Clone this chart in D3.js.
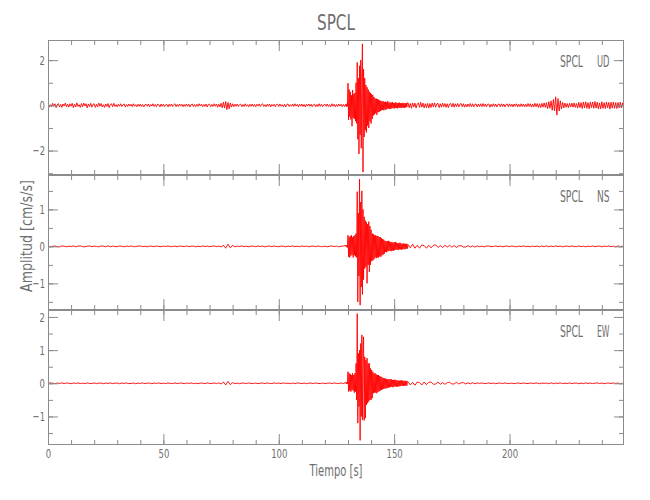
<!DOCTYPE html>
<html><head><meta charset="utf-8">
<script src="https://cdn.jsdelivr.net/npm/d3@7"></script>
<style>
body{margin:0;background:#fff;}
text{font-family:"DejaVu Sans Condensed","DejaVu Sans",sans-serif;fill:#6e6e6e;}
</style></head>
<body><svg id="c" width="650" height="500"></svg>
<script>
// ---------- data ----------
const title = "SPCL";
const station = "SPCL";
const components = ["UD", "NS", "EW"];
const xLabel = "Tiempo [s]";
const yLabel = "Amplitud [cm/s/s]";
const timeDomain = [0, 249.6];
const xMajorTicks = [0, 50, 100, 150, 200];
const xMinorTicks = d3.range(0, 250, 10);
const eventStart = 129, eventStep = 0.25, postStart = 156;

// UD (vertical) component: quiet parts sampled every 0.5 s
const udStep = 0.5;
const udDomain = [-3.08, 2.89];
const udMajor = [-2, 0, 2];
const udMinor = [-3, -2, -1, 0, 1, 2];
const udPre = [
 .05,-.08,.03,-.06,.09,-.04,.07,-.1,.02,.08,-.07,.04,-.09,.06,-.03,.1,-.06,.05,-.08,.07,
 -.04,.09,-.1,.05,-.07,.11,-.05,.03,-.09,.08,-.06,.1,-.03,.07,-.11,.06,-.05,.09,-.08,.04,
 .07,-.09,.05,-.06,.1,-.04,.08,-.07,.03,-.09,.06,-.05,.08,-.1,.04,.07,-.06,.09,-.05,.03,
 -.06,.05,-.04,.07,-.05,.03,.06,-.07,.04,-.05,.06,-.03,.05,-.06,.07,-.04,.03,-.06,.05,-.04,
 .06,-.05,.04,-.07,.03,.05,-.04,.06,-.06,.04,-.03,.07,-.05,.04,-.06,.05,.03,-.07,.06,-.04,
 .05,-.06,.03,.04,-.07,.05,-.04,.06,-.05,.03,.07,-.06,.04,-.05,.06,-.03,.05,-.06,.04,-.05,
 .06,-.04,.05,-.07,.03,.06,-.05,.04,-.06,.05,-.04,.07,-.03,.05,-.06,.04,-.05,.06,-.07,.04,
 .05,-.06,.04,-.05,.07,-.04,.06,-.08,.05,-.07,.09,-.11,.14,-.12,.17,-.19,.13,-.15,.1,-.08,
 .07,-.06,.05,-.04,.06,-.05,.03,.05,-.06,.04,-.05,.07,-.04,.03,-.06,.05,-.04,.06,-.05,.04,
 -.06,.05,-.03,.06,-.05,.04,.07,-.05,.03,-.06,.05,-.04,.06,-.07,.04,-.03,.05,-.06,.04,.05,
 -.05,.06,-.04,.03,-.06,.05,-.07,.04,.06,-.05,.03,-.04,.06,-.05,.07,-.03,.04,-.06,.05,-.04,
 .06,-.05,.04,-.07,.05,-.03,.06,-.04,.05,-.06,.03,.05,-.06,.04,-.05,.07,-.04,.05,-.06,.03,
 .05,-.04,.06,-.05,.03,-.06,.07,-.04,.05,-.06,.04,-.05,.06,-.03,.05,-.06,.04,-.05];
const udEvent = [
 .05,-.06,.07,-.05,  .98,-.65,.7,-.5,  .6,-.62,.45,-.92,  .68,-.55,.5,-.6,
 .55,-.7,1.0,-.8,  1.9,-1.5,1.2,-2.15,  1.75,-1.3,2.0,-1.9,  1.3,2.72,-2.95,1.6,
 -1.4,1.2,-1.1,.9,  -1.2,.8,-.9,.7,  -1.0,.6,-.7,.55,  -.8,.5,-.6,.45,
 -.45,.37,-.4,.3,  -.35,.3,-.42,.28,  -.3,.25,-.3,.22,  -.25,.2,-.22,.18,
 -.2,.18,-.22,.15,  -.18,.16,-.2,.14,  -.15,.18,-.14,.12,  -.16,.13,-.15,.12,
 -.13,.15,-.12,.1,  -.14,.12,-.11,.13,  -.12,.1,-.13,.11,  -.1,.12,-.11,.09,
 -.12,.1,-.09,.11,  -.1,.09,-.11,.1,  -.09,.1,-.08,.11];
const udPost = [
 .12,-.1,.08,-.13,.11,-.07,.1,-.12,.06,.11,-.09,.13,-.08,.1,-.11,.07,-.1,.09,-.12,.08,
 -.09,.1,-.07,.11,-.08,.06,.09,-.1,.07,-.08,.1,-.06,.08,-.09,.07,-.1,.06,.08,-.07,.09,
 -.08,.07,-.06,.08,-.07,.05,.08,-.06,.07,-.08,.05,-.07,.06,-.05,.08,-.06,.07,-.07,.05,.06,
 -.07,.06,-.05,.07,-.06,.08,-.05,.06,-.07,.05,.06,-.08,.05,-.06,.07,-.05,.06,-.07,.04,.06,
 -.06,.07,-.05,.06,-.07,.04,.06,-.06,.07,-.05,.05,-.07,.06,-.04,.07,-.06,.05,-.06,.07,-.05,
 .06,-.07,.05,-.06,.08,-.05,.07,-.08,.06,-.07,.09,-.06,.08,-.09,.07,-.1,.09,-.08,.11,-.09,
 .12,-.14,.16,-.13,.2,-.22,.26,-.24,.38,-.43,.3,-.25,.2,-.16,.13,-.11,.1,-.09,.08,-.1,
 .09,-.07,.1,-.08,.11,-.09,.08,-.12,.13,-.1,.12,-.14,.15,-.11,.16,-.13,.12,-.15,.14,-.1,
 .15,-.13,.17,-.12,.14,-.16,.11,-.15,.16,-.13,.12,-.14,.15,-.11,.13,-.16,.14,-.12,.15,-.13,
 .12,-.14,.13,-.11,.14,-.12,.11,-.13];

// NS component: quiet parts sampled every 1 s
const nsStep = 1;
const nsDomain = [-1.72, 1.93];
const nsMajor = [-1, 0, 1];
const nsMinor = [-1.5, -1, -0.5, 0, 0.5, 1, 1.5];
const nsPre = [
 .008,-.012,.004,.012,-.008,-.015,.012,.004,-.012,.008,
 -.004,.012,-.012,.008,.015,-.008,-.012,.004,.012,-.008,
 .008,-.004,-.012,.012,.004,-.008,.015,-.012,.008,-.004,
 -.008,.012,.004,-.012,.008,-.004,.012,-.008,-.004,.008,
 .012,-.008,.004,-.012,.008,.004,-.008,.012,-.004,-.008,
 .008,-.004,.012,-.008,-.004,.008,-.012,.008,.004,-.008,
 .012,-.008,.004,.008,-.012,.004,-.008,.012,-.004,.008,
 -.008,.004,.012,-.008,.008,-.015,.03,-.05,.06,-.04,
 .03,-.012,.008,-.004,.012,-.008,.004,-.012,.008,.004,
 -.008,.012,-.004,.008,-.012,.004,.008,-.008,.012,-.004,
 -.008,.008,.004,-.012,.008,-.004,.012,-.008,.004,-.008,
 .012,-.004,.008,-.012,.004,.008,-.008,.012,-.004,-.008,
 .008,-.012,.004,.012,-.008,.008,-.012,.004,.008];
const nsEvent = [
 .03,-.02,.03,-.03,  .3,-.28,.25,-.3,  .28,-.25,.3,-.22,  .25,-.3,.28,-.24,
 .3,-.27,.35,-.3,  1.48,-1.5,.9,-.8,  1.82,-1.59,1.2,-1.1,  1.5,-1.3,1.0,-.9,
 .8,-.6,.7,-.55,  .65,-1.0,.6,-.5,  .67,-.69,.55,-.5,  .45,-.4,.35,-.38,
 .33,-.35,.3,-.3,  .3,-.32,.28,-.3,  .28,-.3,.25,-.27,  .25,-.28,.22,-.24,
 .2,-.22,.18,-.2,  .15,-.15,.14,-.16,  .14,-.13,.15,-.12,  .13,-.12,.11,-.13,
 .12,-.11,.1,-.12,  .11,-.1,.12,-.09,  .1,-.09,.08,-.1,  .09,-.08,.1,-.08,
 .08,-.09,.07,-.08,  .08,-.07,.07,-.08,  .07,-.06,.07,-.06];
const nsPost = [
 .05,-.04,.06,-.05,.03,-.05,.04,.02,-.05,.03,
 -.04,.03,.04,-.03,.02,-.03,.03,-.02,.03,-.02,
 .02,-.03,.015,.02,-.02,-.015,.02,-.02,.015,-.02,
 .012,-.008,.004,-.012,.008,.012,-.008,-.004,.012,-.008,
 .008,-.012,.004,.008,-.008,.012,-.004,-.012,.008,-.004,
 .012,-.008,.004,-.012,.008,-.004,.008,-.012,.012,-.008,
 .015,-.012,.008,-.008,.012,-.004,.008,-.012,.004,.008,
 -.008,.012,-.004,-.008,.012,-.008,.004,-.012,.008,-.004,
 .012,-.008,.004,.008,-.012,.008,-.004,.012,-.008,.004,
 -.008,.012,-.004,.008];

// EW component: quiet parts sampled every 1 s
const ewStep = 1;
const ewDomain = [-1.86, 2.21];
const ewMajor = [-1, 0, 1, 2];
const ewMinor = [-1.5, -1, -0.5, 0, 0.5, 1, 1.5, 2];
const ewPre = [
 -.008,.012,.004,-.012,.008,-.004,.012,-.008,.008,.004,
 -.012,.008,-.004,.012,-.008,.004,-.008,.012,-.004,-.008,
 .012,-.008,.004,.008,-.012,.008,-.004,.012,-.008,.004,
 .008,-.012,.008,-.004,.012,-.008,-.004,.008,-.012,.008,
 -.004,.012,-.008,.004,.008,-.012,.008,-.004,.012,-.008,
 .004,-.008,.012,-.004,-.008,.012,-.008,.004,.008,-.012,
 .008,-.004,.012,-.008,.004,-.012,.008,.004,-.008,.012,
 -.004,-.008,.012,-.008,.012,-.02,.04,-.05,.06,-.04,
 .02,-.008,.004,-.012,.008,.004,-.008,.012,-.004,-.008,
 .008,-.012,.004,.008,-.008,.012,-.004,-.008,.012,-.004,
 .008,-.008,.012,-.004,.004,-.012,.008,-.008,.012,.004,
 -.008,.008,-.012,.004,.008,-.008,.012,-.004,-.008,.008,
 -.012,.004,.008,-.008,.012,-.004,-.008,.012,-.008];
const ewEvent = [
 .03,-.02,.03,-.02,  .35,-.25,.3,-.22,  .28,-.25,.25,-.2,  .3,-.22,.25,-.28,
 .3,-.25,.6,-.5,  2.1,-1.2,.9,-.7,  1.0,-1.72,1.2,-1.0,  1.46,-1.1,.9,1.4,
 -1.12,.8,-1.05,.7,  -.65,.76,-.6,.6,  -.55,.6,-.5,.45,  -.5,.4,-.45,.35,
 -.3,.3,-.28,.3,  -.28,.27,-.3,.25,  -.26,.25,-.24,.22,  -.22,.2,-.2,.18,
 -.18,.16,-.17,.15,  -.15,.14,-.16,.13,  -.14,.12,-.13,.12,  -.12,.13,-.11,.12,
 -.11,.1,-.12,.1,  -.1,.11,-.09,.1,  -.1,.09,-.1,.08,  -.09,.08,-.09,.08,
 -.08,.09,-.07,.08,  -.08,.07,-.07,.08,  -.07,.06,-.07,.06];
const ewPost = [
 .05,-.05,.03,-.06,.04,.02,-.05,.04,-.04,.03,
 .04,-.03,-.02,.04,-.03,.02,-.03,.02,.03,-.02,
 -.02,.03,-.02,.015,.02,-.02,.015,-.015,.02,-.015,
 .012,-.004,.012,-.008,-.004,.012,-.008,.008,-.012,.004,
 .008,-.008,.012,-.004,-.008,.008,-.012,.004,.008,-.008,
 .012,-.004,-.008,.012,-.008,.004,.008,-.012,.008,-.004,
 .008,-.012,.015,-.012,.008,-.004,.012,-.008,.004,-.008,
 .012,-.008,.004,.008,-.012,.004,-.008,.012,-.004,.008,
 -.008,.004,.012,-.008,.008,-.012,.004,.008,-.008,.012,
 -.004,.008,-.012,.004];

// ---------- drawing ----------
const left = 48, right = 624;
const panelTops = [40, 175, 310];
const panelH = 135;
const svg = d3.select("#c");
const x = d3.scaleLinear().domain(timeDomain).range([left, right]);

function series(pre, ev, post, step) {
  const pts = [];
  pre.forEach((v, i) => pts.push([i * step, v]));
  ev.forEach((v, i) => pts.push([eventStart + i * eventStep, v]));
  post.forEach((v, i) => pts.push([postStart + i * step, v]));
  return pts;
}

const panels = [
  {comp: components[0], dom: udDomain, major: udMajor, minor: udMinor, data: series(udPre, udEvent, udPost, udStep)},
  {comp: components[1], dom: nsDomain, major: nsMajor, minor: nsMinor, data: series(nsPre, nsEvent, nsPost, nsStep)},
  {comp: components[2], dom: ewDomain, major: ewMajor, minor: ewMinor, data: series(ewPre, ewEvent, ewPost, ewStep)}
];

const axisColor = "#8c8c8c";
const textColor = "#6e6e6e";
const fmt = d => (d < 0 ? "\u2212" + Math.abs(d) : String(d));
const labelW = s => [...s].reduce((w, c) => w + (c === "\u2212" ? 7 : 5.4), 0);

function fit(sel) {
  sel.each(function () {
    const t = d3.select(this);
    const s = t.text();
    if (s) t.attr("textLength", labelW(s)).attr("lengthAdjust", "spacingAndGlyphs");
  });
}

panels.forEach((p, k) => {
  const top = panelTops[k], bottom = top + panelH;
  const y = d3.scaleLinear().domain(p.dom).range([bottom, top]);
  const g = svg.append("g");
  const cid = "clip" + k;
  svg.append("clipPath").attr("id", cid).append("rect")
    .attr("x", left).attr("y", top).attr("width", right - left).attr("height", panelH);

  const line = d3.line().x(d => x(d[0])).y(d => y(d[1]));
  g.append("path").datum(p.data).attr("clip-path", `url(#${cid})`)
    .attr("d", line).attr("fill", "none").attr("stroke", "#ff0000")
    .attr("stroke-width", 0.9);

  const mk = (tr, axis) => {
    const a = g.append("g").attr("transform", tr).call(axis);
    a.select(".domain").remove();
    a.selectAll("line").attr("stroke", axisColor);
    a.selectAll("text").attr("font-size", 13).attr("fill", textColor)
      .style("font-family", '"DejaVu Sans Condensed","DejaVu Sans",sans-serif').call(fit);
    return a;
  };
  mk(`translate(${left},0)`, d3.axisLeft(y).tickValues(p.minor).tickSize(-5).tickFormat(""));
  mk(`translate(${left},0)`, d3.axisLeft(y).tickValues(p.major).tickSize(-10).tickPadding(3).tickFormat(fmt));
  mk(`translate(${right},0)`, d3.axisRight(y).tickValues(p.minor).tickSize(-5).tickFormat(""));
  mk(`translate(${right},0)`, d3.axisRight(y).tickValues(p.major).tickSize(-10).tickFormat(""));
  mk(`translate(0,${top})`, d3.axisTop(x).tickValues(xMinorTicks).tickSize(-5).tickFormat(""));
  mk(`translate(0,${top})`, d3.axisTop(x).tickValues(xMajorTicks).tickSize(-11).tickFormat(""));
  mk(`translate(0,${bottom})`, d3.axisBottom(x).tickValues(xMinorTicks).tickSize(-5).tickFormat(""));
  mk(`translate(0,${bottom})`, d3.axisBottom(x).tickValues(xMajorTicks)
    .tickSize(-11).tickPadding(4).tickFormat(k === 2 ? d3.format("d") : ""));

  g.append("rect").attr("x", left + 0.5).attr("y", top + 0.5)
    .attr("width", right - left - 1).attr("height", panelH - 1)
    .attr("fill", "none").attr("stroke", axisColor).attr("stroke-width", 1);

  g.append("text").attr("x", 560).attr("y", top + 27).attr("font-size", 15).attr("fill", textColor)
    .attr("textLength", 23).attr("lengthAdjust", "spacingAndGlyphs").text(station);
  g.append("text").attr("x", 597).attr("y", top + 27).attr("font-size", 15).attr("fill", textColor)
    .attr("textLength", 12.5).attr("lengthAdjust", "spacingAndGlyphs").text(p.comp);
});

svg.append("text").attr("x", (left + right) / 2).attr("y", 30)
  .attr("text-anchor", "middle").attr("font-size", 21).attr("fill", textColor)
  .attr("textLength", 38).attr("lengthAdjust", "spacingAndGlyphs").text(title);
svg.append("text").attr("x", (left + right) / 2).attr("y", 476)
  .attr("text-anchor", "middle").attr("font-size", 15).attr("fill", textColor)
  .attr("textLength", 53).attr("lengthAdjust", "spacingAndGlyphs").text(xLabel);
svg.append("text").attr("transform", "translate(32,236) rotate(-90)")
  .attr("text-anchor", "middle").attr("font-size", 15).attr("fill", textColor)
  .attr("textLength", 112).attr("lengthAdjust", "spacingAndGlyphs").text(yLabel);
</script></body></html>
